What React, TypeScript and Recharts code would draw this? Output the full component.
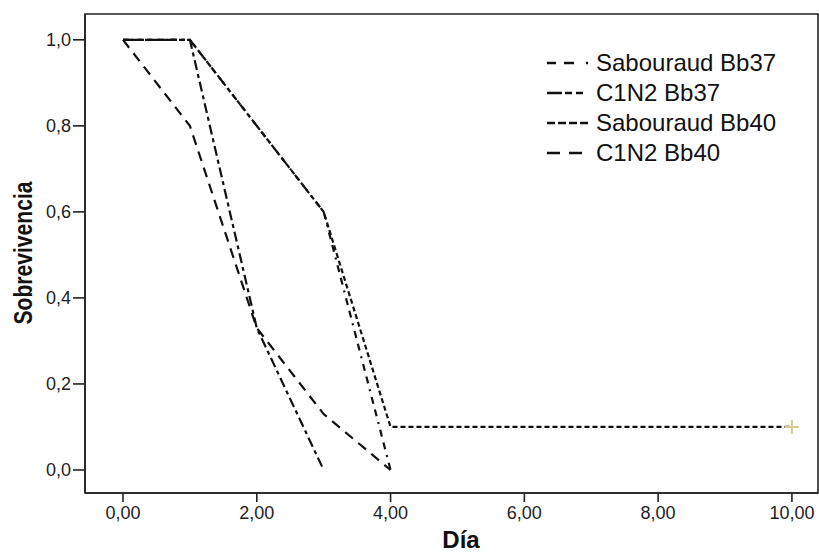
import { LineChart, Line, XAxis, YAxis, ReferenceArea } from "recharts";

// Día (x) and survival values per group; null = no point on that day
const days = [0, 1, 2, 3, 4, 10];
const sabouraudBb37 = [1, 1, null, 0.6, 0, null];
const c1n2Bb37 = [1, 1, 0.33, 0, null, null];
const sabouraudBb40 = [1, 1, null, 0.6, 0.1, 0.1];
const c1n2Bb40 = [1, 0.8, 0.33, 0.13, 0, null];

const xTicks = [0, 2, 4, 6, 8, 10];
const yTicks = [0, 0.2, 0.4, 0.6, 0.8, 1.0];

const data = days.map((d, i) => ({
  day: d,
  sab37: sabouraudBb37[i],
  c1n237: c1n2Bb37[i],
  sab40: sabouraudBb40[i],
  c1n240: c1n2Bb40[i],
}));

const series = [
  { key: "sab37", name: "Sabouraud Bb37", dash: "7 6 7 6 2 6", legendDash: "9 8 10 12 2 40" },
  { key: "c1n237", name: "C1N2 Bb37", dash: "10 4 4 4", legendDash: "15 3 7 4 7 40" },
  { key: "sab40", name: "Sabouraud Bb40", dash: "5 3", legendDash: "8 3" },
  { key: "c1n240", name: "C1N2 Bb40", dash: "10 7", legendDash: "13 9 13 40" },
];

const FONT = "'Liberation Sans', Arial, sans-serif";
const X_DOMAIN: [number, number] = [-0.568, 10.39];
const Y_DOMAIN: [number, number] = [-0.0535, 1.06];

const censorDot = (props: any) => {
  const { cx, cy, index } = props;
  if (index !== days.length - 1 || cx == null || cy == null) return <g key={index} />;
  return (
    <path
      key={index}
      d={`M${cx - 7},${cy}h14M${cx},${cy - 7}v14`}
      stroke="#d2cd8a"
      strokeWidth={2}
      fill="none"
    />
  );
};

export default function App() {
  return (
    <div style={{ position: "absolute", left: 0, top: 0, width: 819, height: 555, background: "#fff" }}>
      <LineChart
        width={819}
        height={555}
        data={data}
        margin={{ top: 14, right: 1, bottom: 0, left: 0 }}
      >
        <ReferenceArea
          x1={X_DOMAIN[0]}
          x2={X_DOMAIN[1]}
          y1={Y_DOMAIN[0]}
          y2={Y_DOMAIN[1]}
          fill="none"
          stroke="#222"
          strokeWidth={1.6}
          ifOverflow="visible"
        />
        <XAxis
          type="number"
          dataKey="day"
          domain={X_DOMAIN}
          allowDataOverflow
          ticks={xTicks}
          tickFormatter={(v: number) => v.toFixed(2).replace(".", ",")}
          height={62}
          tickSize={9}
          tickMargin={4}
          axisLine={{ stroke: "#222", strokeWidth: 1.6 }}
          tickLine={{ stroke: "#222", strokeWidth: 1.6 }}
          tick={{ fill: "#222", fontSize: 18, fontFamily: FONT }}
          label={{
            content: () => (
              <text
                x={461}
                y={548}
                textAnchor="middle"
                fontFamily={FONT}
                fontWeight="bold"
                fontSize={24}
                fill="#111"
              >
                Día
              </text>
            ),
          }}
        />
        <YAxis
          type="number"
          domain={Y_DOMAIN}
          allowDataOverflow
          ticks={yTicks}
          tickFormatter={(v: number) => v.toFixed(1).replace(".", ",")}
          width={85}
          tickSize={12}
          tickMargin={2}
          axisLine={{ stroke: "#222", strokeWidth: 1.6 }}
          tickLine={{ stroke: "#222", strokeWidth: 1.6 }}
          tick={{ fill: "#222", fontSize: 18, fontFamily: FONT }}
          label={{
            content: () => (
              <text
                x={0}
                y={0}
                transform="translate(32,253) rotate(-90)"
                textAnchor="middle"
                fontFamily={FONT}
                fontWeight="bold"
                fontSize={25}
                textLength={143}
                lengthAdjust="spacingAndGlyphs"
                fill="#111"
              >
                Sobrevivencia
              </text>
            ),
          }}
        />
        {series.map((s) => (
          <Line
            key={s.key}
            type="linear"
            dataKey={s.key}
            name={s.name}
            stroke="#111"
            strokeWidth={2.2}
            strokeDasharray={s.dash}
            connectNulls
            dot={s.key === "sab40" ? censorDot : false}
            activeDot={false}
            isAnimationActive={false}
          />
        ))}
      </LineChart>
      <svg
        width={270}
        height={130}
        style={{ position: "absolute", left: 540, top: 40 }}
      >
        {series.map((s, i) => (
          <g key={s.key}>
            <line
              x1={7}
              x2={48}
              y1={23 + i * 30}
              y2={23 + i * 30}
              stroke="#111"
              strokeWidth={2.5}
              strokeDasharray={s.legendDash}
            />
            <text
              x={56}
              y={31 + i * 30}
              fontFamily={FONT}
              fontSize={24}
              fill="#111"
            >
              {s.name}
            </text>
          </g>
        ))}
      </svg>
    </div>
  );
}
